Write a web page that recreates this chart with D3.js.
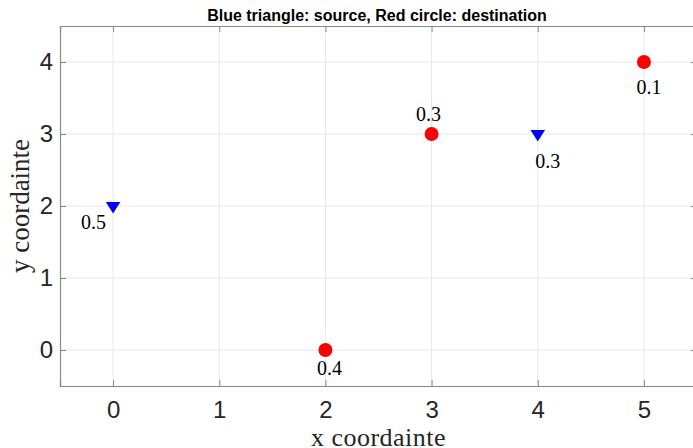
<!DOCTYPE html>
<html><head><meta charset="utf-8">
<script src="https://cdn.jsdelivr.net/npm/d3@7"></script>
<style>html,body{margin:0;padding:0;background:#fff;}svg{display:block;}</style>
</head><body>
<script>
// Data
const sourceX = [0, 4];
const sourceY = [2, 3];
const sourceLabels = ["0.5", "0.3"];
const destX = [2, 3, 5];
const destY = [0, 3, 4];
const destLabels = ["0.4", "0.3", "0.1"];
const xTicks = [0, 1, 2, 3, 4, 5];
const yTicks = [0, 1, 2, 3, 4];
const titleText = "Blue triangle: source, Red circle: destination";
const xLabelText = "x coordainte";
const yLabelText = "y coordainte";

// Layout (label offsets in pixels)
const sourceLabelOffset = [[-19.5, 16], [10, 27]];
const destLabelOffset = [[4, 18], [-3, -20.5], [5, 25]];

const W = 693, H = 448;
const m = {left: 60, right: -4, top: 26, bottom: 62};
const svg = d3.select("body").append("svg").attr("width", W).attr("height", H);
const x = d3.scaleLinear().domain([-0.5, 5.5]).range([m.left, W - m.right]);
const y = d3.scaleLinear().domain([-0.5, 4.5]).range([H - m.bottom, m.top]);
const x0 = x.range()[0], x1 = x.range()[1], y0 = y.range()[0], y1 = y.range()[1];

// grid
const grid = svg.append("g").attr("stroke", "#e8e8e8").attr("stroke-width", 1);
xTicks.forEach(t => grid.append("line").attr("x1", x(t)).attr("x2", x(t)).attr("y1", y1).attr("y2", y0));
yTicks.forEach(t => grid.append("line").attr("y1", y(t)).attr("y2", y(t)).attr("x1", x0).attr("x2", x1));

// axes
const axCol = "#888888";
const xAxis = svg.append("g").attr("transform", `translate(0,${y0})`)
  .call(d3.axisBottom(x).tickValues(xTicks).tickSize(-6).tickPadding(15).tickFormat(d3.format("d")));
const yAxis = svg.append("g").attr("transform", `translate(${x0},0)`)
  .call(d3.axisLeft(y).tickValues(yTicks).tickSize(-6).tickPadding(7).tickFormat(d3.format("d")));
const xTop = svg.append("g").attr("transform", `translate(0,${y1})`)
  .call(d3.axisTop(x).tickValues(xTicks).tickSize(-6).tickFormat(""));
const yRight = svg.append("g").attr("transform", `translate(${x1},0)`)
  .call(d3.axisRight(y).tickValues(yTicks).tickSize(-6).tickFormat(""));
[xAxis, yAxis, xTop, yRight].forEach(g => {
  g.select(".domain").attr("stroke", axCol).attr("stroke-width", 1.2);
  g.selectAll(".tick line").attr("stroke", axCol);
  g.selectAll(".tick text").attr("fill", "#262626")
    .style("font-family", "'Liberation Sans', Arial, sans-serif").style("font-size", "24px");
});

// destination circles
svg.append("g").selectAll("circle").data(destX).join("circle")
  .attr("cx", d => x(d)).attr("cy", (d, i) => y(destY[i])).attr("r", 7).attr("fill", "#ff0000");
// source triangles (pointing down)
svg.append("g").selectAll("path").data(sourceX).join("path")
  .attr("d", (d, i) => {
    const cx = x(d), cy = y(sourceY[i]);
    return `M${cx - 7.3},${cy - 4}L${cx + 7.3},${cy - 4}L${cx},${cy + 7.5}Z`;
  }).attr("fill", "#0000ff");

// labels
const serif = "'Liberation Serif', 'Times New Roman', serif";
svg.append("g").selectAll("text").data(destLabels).join("text")
  .attr("x", (d, i) => x(destX[i]) + destLabelOffset[i][0])
  .attr("y", (d, i) => y(destY[i]) + destLabelOffset[i][1])
  .attr("text-anchor", "middle").attr("dominant-baseline", "central")
  .style("font-family", serif).style("font-size", "20px").attr("fill", "#000").text(d => d);
svg.append("g").selectAll("text").data(sourceLabels).join("text")
  .attr("x", (d, i) => x(sourceX[i]) + sourceLabelOffset[i][0])
  .attr("y", (d, i) => y(sourceY[i]) + sourceLabelOffset[i][1])
  .attr("text-anchor", "middle").attr("dominant-baseline", "central")
  .style("font-family", serif).style("font-size", "20px").attr("fill", "#000").text(d => d);

// title and axis labels
svg.append("text").attr("x", 377).attr("y", 21).attr("text-anchor", "middle")
  .style("font-family", "'Liberation Sans', Arial, sans-serif").style("font-weight", "bold")
  .style("font-size", "16px").attr("fill", "#000").text(titleText);
svg.append("text").attr("x", (x0 + x1) / 2).attr("y", 446).attr("text-anchor", "middle")
  .style("font-family", serif).style("font-size", "26px").style("letter-spacing", "0.5px")
  .attr("fill", "#262626").text(xLabelText);
svg.append("text").attr("transform", `translate(29,${(y0 + y1) / 2}) rotate(-90)`).attr("text-anchor", "middle")
  .style("font-family", serif).style("font-size", "27px").attr("fill", "#262626").text(yLabelText);
</script>
</body></html>
